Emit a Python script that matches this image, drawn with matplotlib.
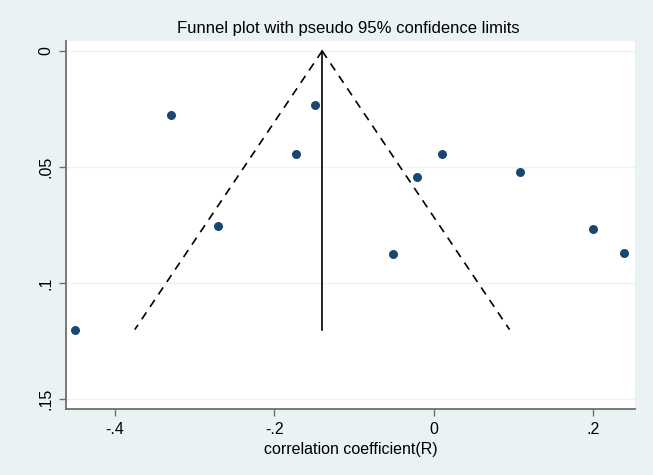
import matplotlib
matplotlib.use('Agg')

import matplotlib.pyplot as plt
import numpy as np

# study estimates
r_values = [-0.33, -0.271, -0.173, -0.149, -0.051, -0.021, 0.010, 0.108, 0.200, 0.239, -0.450]
se_values = [0.0276, 0.0754, 0.0444, 0.0233, 0.0874, 0.0543, 0.0444, 0.0521, 0.0767, 0.0870, 0.120]

pooled = -0.14
se_max = 0.12
y_ticks = [0, 0.05, 0.1, 0.15]
y_tick_labels = ['0', '.05', '.1', '.15']
x_ticks = [-0.4, -0.2, 0, 0.2]
x_tick_labels = ['-.4', '-.2', '0', '.2']

plt.rcParams['font.family'] = ['Liberation Sans', 'DejaVu Sans']

bg = '#eaf2f3'
fig = plt.figure(figsize=(6.53, 4.75), dpi=100, facecolor=bg)
ax = fig.add_axes([65.7 / 653, 1 - 409 / 475, (635 - 65.7) / 653, (409 - 41) / 475])
ax.set_facecolor('white')

#grid lines at y ticks
for yt in y_ticks:
    ax.axhline(yt, color='#eef3f4', lw=1, zorder=0)

# funnel limits
se_line = np.array([0, se_max])
ax.plot(pooled - 1.96 * se_line, se_line, color='black', ls=(0, (5, 4)), lw=1.2)
ax.plot(pooled + 1.96 * se_line, se_line, color='black', ls=(0, (5, 4)), lw=1.2)
ax.plot([pooled, pooled], [0, se_max], color='black', lw=1.2)

ax.scatter(r_values, se_values, s=42, color='#1a476f', zorder=3, linewidths=0)

ax.set_xlim(-0.4619, 0.2527)
ax.set_ylim(0.1542, -0.0043)

ax.set_xticks(x_ticks)
ax.set_xticklabels(x_tick_labels, fontsize=11.5)
ax.set_yticks(y_ticks)
ax.set_yticklabels(y_tick_labels, fontsize=11.5, rotation=90, va='center')

for side in ['top', 'right']:
    ax.spines[side].set_visible(False)
for side in ['left', 'bottom']:
    ax.spines[side].set_color('#6e6e6e')
    ax.spines[side].set_linewidth(1.3)
ax.tick_params(axis='both', color='#6e6e6e', length=5, width=1, pad=4)

ax.set_xlabel('correlation coefficient(R)', fontsize=11.5, labelpad=4)
fig.text(0.5 * (162 + 535) / 653, 1 - 28 / 475, 'Funnel plot with pseudo 95% confidence limits',
         fontsize=12, ha='center', va='center')

plt.savefig('out.png', dpi=100, facecolor=bg)
